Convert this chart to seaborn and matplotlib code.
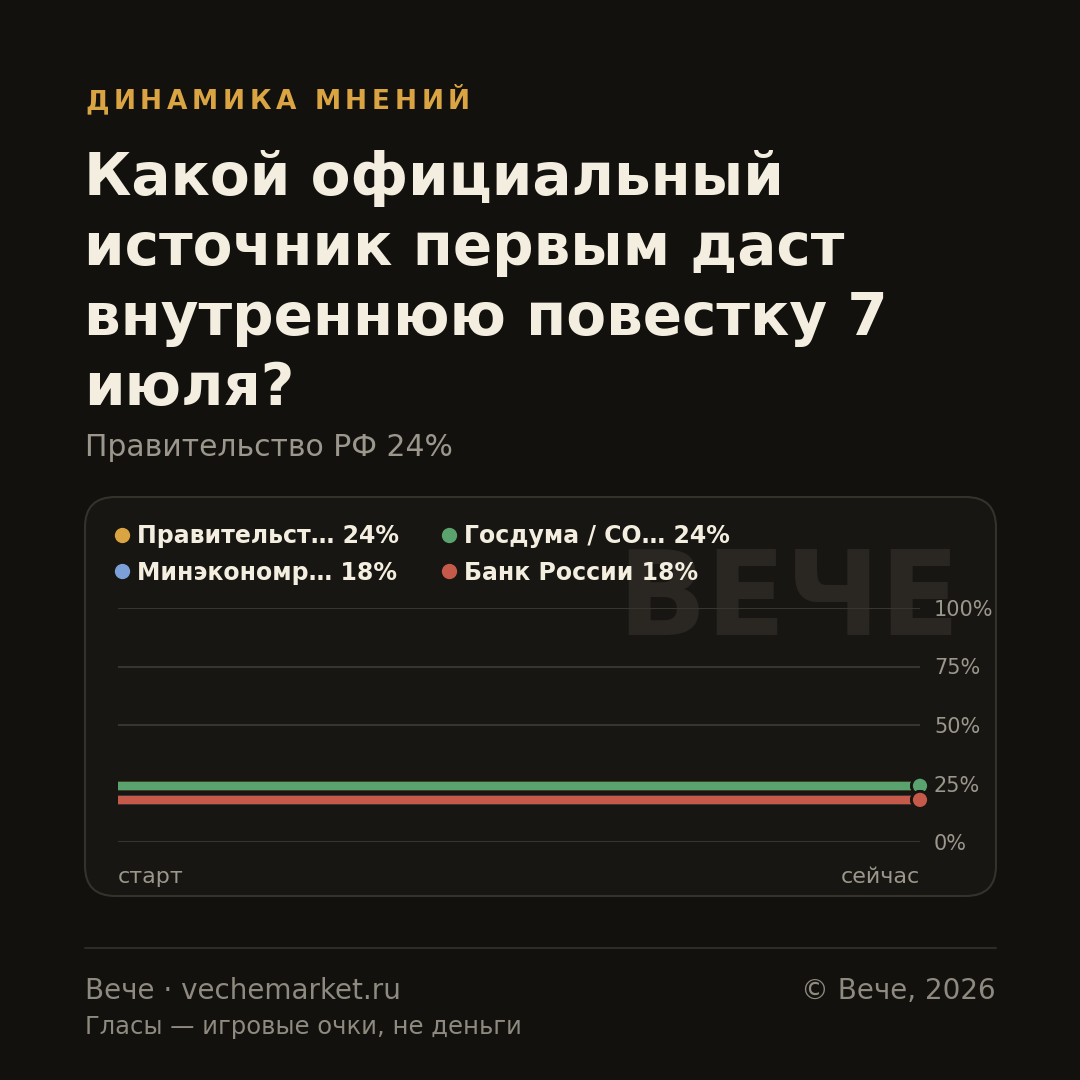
import matplotlib
matplotlib.use('Agg')
import matplotlib.pyplot as plt
from matplotlib.patches import FancyBboxPatch
from matplotlib.lines import Line2D
import seaborn as sns
import pandas as pd

# --- data ---
series_names = ["Правительст…", "Госдума / СО…", "Минэкономр…", "Банк России"]
series_values = [24, 24, 18, 18]
series_colors = ["#d9a441", "#5aa36e", "#7b9fd9", "#c65a4a"]
x_labels = ["старт", "сейчас"]
y_ticks = [0, 25, 50, 75, 100]

kicker = "ДИНАМИКА МНЕНИЙ"
title_lines = ["Какой официальный", "источник первым даст", "внутреннюю повестку 7", "июля?"]
leader = "Правительство РФ 24%"

BG = "#12110e"
PANEL = "#181612"
CREAM = "#f3eedf"
MUTED = "#9c978c"
FOOT = "#8f8a7f"

sns.set_theme(style="dark")
plt.rcParams['font.family'] = ['DejaVu Sans']


def fy(px):
    return 1 - px / 1080


def fx(px):
    return px / 1080


fig = plt.figure(figsize=(10.8, 10.8), dpi=100, facecolor=BG)
renderer = fig.canvas.get_renderer()

# header: kicker with letter spacing, placed char by char
x = 85
for ch in kicker:
    t = fig.text(fx(x), fy(109), ch, fontsize=19, fontweight='bold',
                 color="#d9a441", va='baseline', ha='left')
    w = t.get_window_extent(renderer).width if ch != " " else 9
    x += w + 4.7

for i, line in enumerate(title_lines):
    fig.text(fx(84), fy(195 + 70 * i), line, fontsize=41.8, fontweight='bold',
             color=CREAM, va='baseline', ha='left')
fig.text(fx(85), fy(456), leader, fontsize=21.5, color=MUTED, va='baseline', ha='left')

# panel
panel = FancyBboxPatch((fx(85), fy(896)), fx(911), fx(399),
                       boxstyle="round,pad=0,rounding_size=0.028",
                       transform=fig.transFigure, facecolor=PANEL,
                       edgecolor="#35322c", linewidth=1.5, zorder=0)
fig.add_artist(panel)
fig.text(fx(960), fy(635), "ВЕЧЕ", fontsize=84, fontweight='bold', color="#2a2722",
         ha='right', va='baseline', zorder=0.5)

# chart
ax = fig.add_axes([fx(118), fy(842), fx(802), fx(234)], zorder=1)
ax.set_facecolor('none')
df = pd.DataFrame({
    "x": [0, 1] * len(series_names),
    "value": [v for v in series_values for _ in range(2)],
    "series": [n for n in series_names for _ in range(2)],
})
for y in y_ticks:
    ax.axhline(y, color="#38352f", linewidth=1.5, zorder=1)
sns.lineplot(data=df, x="x", y="value", hue="series", palette=series_colors,
             hue_order=series_names, linewidth=6, legend=False, ax=ax,
             solid_capstyle='butt', zorder=3)
end = df[df["x"] == 1]
sns.scatterplot(data=end, x="x", y="value", hue="series", palette=series_colors,
                hue_order=series_names, s=150, edgecolor=PANEL, linewidth=2,
                legend=False, ax=ax, zorder=4, clip_on=False)

ax.set_xlim(0, 1)
ax.set_ylim(0, 100)
ax.yaxis.tick_right()
ax.set_yticks(y_ticks, [f"{t}%" for t in y_ticks])
ax.tick_params(axis='y', length=0, pad=10, labelsize=15, labelcolor=MUTED)
ax.set_xticks([0, 1], x_labels)
ax.tick_params(axis='x', length=0, pad=18, labelsize=16, labelcolor=MUTED)
xt = ax.get_xticklabels()
xt[0].set_ha('left')
xt[1].set_ha('right')
ax.set_xlabel("")
ax.set_ylabel("")
ax.grid(False)
for s in ax.spines.values():
    s.set_visible(False)

# legend (column-major fill: gold, blue | green, red)
order = [0, 2, 1, 3]
handles = [Line2D([], [], marker='o', linestyle='', markersize=10,
                  markerfacecolor=series_colors[i], markeredgecolor=series_colors[i])
           for i in order]
labels = [f"{series_names[i]} {series_values[i]}%" for i in order]
fig.legend(handles, labels, ncol=2, loc='upper left',
           bbox_to_anchor=(fx(115), fy(524)), frameon=False,
           prop={'weight': 'bold', 'size': 17}, labelcolor=CREAM,
           handlelength=0.6, handletextpad=0.35, columnspacing=1.78,
           labelspacing=0.54, borderaxespad=0, borderpad=0)

# footer
fig.add_artist(Line2D([fx(85), fx(996)], [fy(948), fy(948)], transform=fig.transFigure,
                      color="#2e2b26", linewidth=1.5))
fig.text(fx(85), fy(999), "Вече · vechemarket.ru", fontsize=20, color=FOOT,
         va='baseline', ha='left')
fig.text(fx(996), fy(999), "© Вече, 2026", fontsize=20, color=FOOT,
         va='baseline', ha='right')
fig.text(fx(85), fy(1034), "Гласы — игровые очки, не деньги", fontsize=17.5,
         color=FOOT, va='baseline', ha='left')

fig.savefig("out.png", dpi=100, facecolor=BG)
